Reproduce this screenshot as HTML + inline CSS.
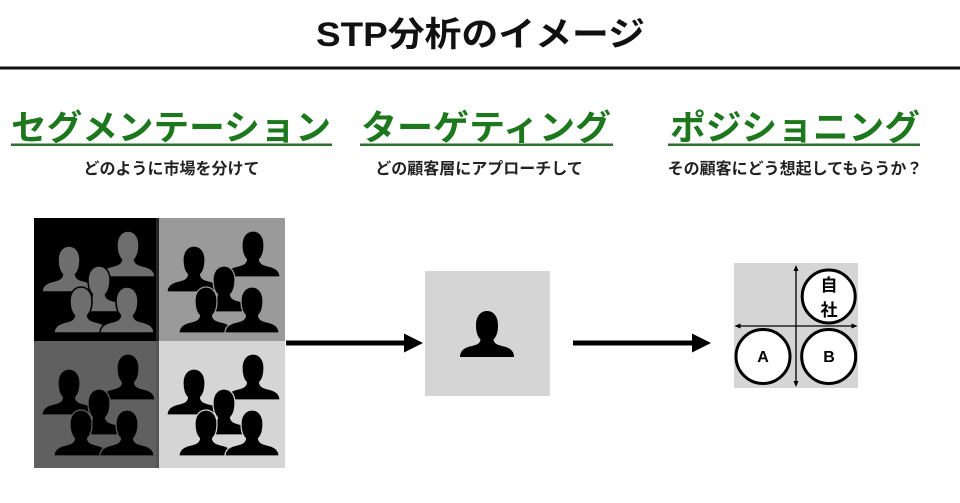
<!DOCTYPE html>
<html><head><meta charset="utf-8"><style>
html,body{margin:0;padding:0;background:#fff;}
svg{display:block;}
text{font-family:"Liberation Sans","Noto Sans CJK JP",sans-serif;font-weight:700;}
</style></head><body>
<svg width="960" height="503" viewBox="0 0 960 503" xmlns="http://www.w3.org/2000/svg">
<defs>
<path id="p" d="M0,46 C0,40 4,36.5 12,35 C18,33.5 20,32 20.5,28.5 C17,25 16,20 16,14 C16,5 21,0 27,0 C33,0 38,5 38,14 C38,20 37,25 33.5,28.5 C34,32 36,33.5 42,35 C50,36.5 54,40 54,46 Z"/>
</defs>
<rect width="960" height="503" fill="#fff"/>
<!-- Title -->
<text x="316" y="46" font-size="34" textLength="329" lengthAdjust="spacingAndGlyphs" fill="#111">STP分析のイメージ</text>
<rect x="0" y="66.5" width="960" height="3" fill="#111"/>

<!-- Headings -->
<text x="11" y="140" font-size="35" textLength="320" lengthAdjust="spacingAndGlyphs" fill="#1d771d">セグメンテーション</text>
<rect x="11" y="143.5" width="321" height="2.5" fill="#2f6f2f"/>
<text x="171.5" y="174" font-size="16" text-anchor="middle" fill="#222">どのように市場を分けて</text>

<text x="361" y="140" font-size="35" textLength="250" lengthAdjust="spacingAndGlyphs" fill="#1d771d">ターゲティング</text>
<rect x="360" y="143.5" width="253" height="2.5" fill="#2f6f2f"/>
<text x="479" y="174" font-size="16" text-anchor="middle" fill="#222">どの顧客層にアプローチして</text>

<text x="670" y="140" font-size="35" textLength="250" lengthAdjust="spacingAndGlyphs" fill="#1d771d">ポジショニング</text>
<rect x="668" y="143.5" width="252" height="2.5" fill="#2f6f2f"/>
<text x="795" y="174" font-size="16" text-anchor="middle" fill="#222">その顧客にどう想起してもらうか？</text>

<!-- Segmentation grid -->
<rect x="34" y="218" width="125" height="123" fill="#000"/>
<rect x="159" y="218" width="126" height="123" fill="#9a9a9a"/>
<rect x="34" y="341" width="125" height="127" fill="#606060"/>
<rect x="159" y="341" width="126" height="127" fill="#d5d5d5"/>
<rect x="156" y="218" width="3" height="250" fill="#4a4a4a" opacity="0.5"/>

<!-- TL group -->
<g transform="translate(34,218)" fill="#6e6e6e" stroke="#000" stroke-width="1.5">
<use href="#p" x="67" y="13"/><use href="#p" x="8" y="28"/><use href="#p" x="38" y="48"/><use href="#p" x="20" y="69"/><use href="#p" x="66" y="69"/>
</g>
<!-- TR group -->
<g transform="translate(159,218)" fill="#000" stroke="#9a9a9a" stroke-width="1.2">
<use href="#p" x="67" y="13"/><use href="#p" x="8" y="28"/><use href="#p" x="38" y="48"/><use href="#p" x="20" y="69"/><use href="#p" x="66" y="69"/>
</g>
<!-- BL group -->
<g transform="translate(34,341)" fill="#000" stroke="#606060" stroke-width="1.2">
<use href="#p" x="67" y="13"/><use href="#p" x="8" y="28"/><use href="#p" x="38" y="48"/><use href="#p" x="20" y="69"/><use href="#p" x="66" y="69"/>
</g>
<!-- BR group -->
<g transform="translate(159,341)" fill="#000" stroke="#d5d5d5" stroke-width="1.2">
<use href="#p" x="67" y="13"/><use href="#p" x="8" y="28"/><use href="#p" x="38" y="48"/><use href="#p" x="20" y="69"/><use href="#p" x="66" y="69"/>
</g>

<!-- Arrow 1 -->
<rect x="286" y="340.5" width="120" height="5" fill="#000"/>
<polygon points="404,333.5 423,343 404,352.5" fill="#000"/>

<!-- Target box -->
<rect x="425" y="271" width="125" height="125" fill="#d5d5d5"/>
<use href="#p" x="460" y="311" fill="#000"/>

<!-- Arrow 2 -->
<rect x="573" y="340.5" width="121" height="5" fill="#000"/>
<polygon points="692,333.5 711,343 692,352.5" fill="#000"/>

<!-- Positioning box -->
<rect x="734" y="263" width="124" height="125" fill="#d5d5d5"/>
<line x1="796" y1="269" x2="796" y2="384" stroke="#000" stroke-width="1.3"/>
<polygon points="796,265 793.5,271 798.5,271" fill="#000"/>
<polygon points="796,387 793.5,381 798.5,381" fill="#000"/>
<line x1="738" y1="326" x2="854" y2="326" stroke="#000" stroke-width="1.3"/>
<polygon points="734.5,326 740.5,323.5 740.5,328.5" fill="#000"/>
<polygon points="857.5,326 851.5,323.5 851.5,328.5" fill="#000"/>
<circle cx="828.7" cy="296.5" r="26.5" fill="#fff" stroke="#000" stroke-width="3"/>
<circle cx="763" cy="356.5" r="27" fill="#fff" stroke="#000" stroke-width="3"/>
<circle cx="828.7" cy="356.5" r="27" fill="#fff" stroke="#000" stroke-width="3"/>
<text x="829" y="291" font-size="17" text-anchor="middle" fill="#000">自</text>
<text x="829" y="316" font-size="17" text-anchor="middle" fill="#000">社</text>
<text x="763" y="362" font-size="16" text-anchor="middle" fill="#000">A</text>
<text x="829" y="362" font-size="16" text-anchor="middle" fill="#000">B</text>
</svg>
</body></html>
